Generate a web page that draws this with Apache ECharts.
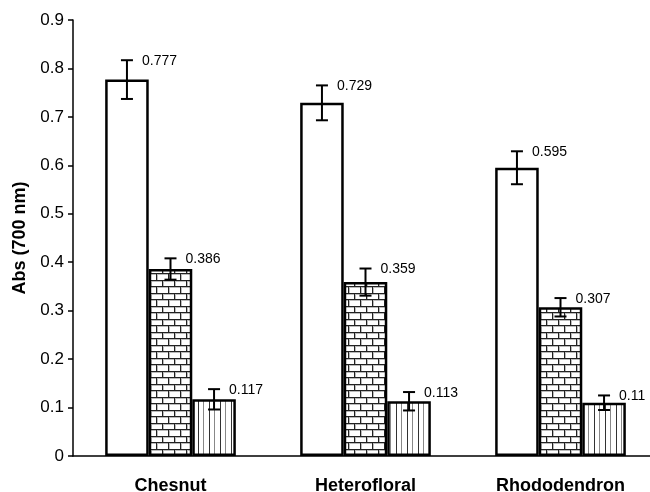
<!DOCTYPE html>
<html><head><meta charset="utf-8">
<script src="https://cdn.jsdelivr.net/npm/echarts@6/dist/echarts.min.js"></script>
<style>html,body{margin:0;padding:0;background:#fff}#c{width:650px;height:492px}</style>
</head><body><div id="c"></div>
<script>
const categories = ['Chesnut', 'Heterofloral', 'Rhododendron'];
const seriesA = [0.777, 0.729, 0.595];
const seriesB = [0.386, 0.359, 0.307];
const seriesC = [0.117, 0.113, 0.11];
const errA = [0.040, 0.036, 0.034];
const errB = [0.022, 0.028, 0.019];
const errC = [0.021, 0.019, 0.015];
const yTicks = [0, 0.1, 0.2, 0.3, 0.4, 0.5, 0.6, 0.7, 0.8, 0.9];

function brickPattern() {
  const c = document.createElement('canvas');
  c.width = 12; c.height = 13;
  const g = c.getContext('2d');
  g.fillStyle = '#fff'; g.fillRect(0, 0, 12, 13);
  g.fillStyle = '#bbb';
  g.fillRect(0, 1, 12, 1); g.fillRect(0, 8, 12, 1);
  g.fillRect(1, 1, 1, 6); g.fillRect(7, 8, 1, 5);
  g.fillStyle = '#222';
  g.fillRect(0, 0, 12, 1); g.fillRect(0, 7, 12, 1);
  g.fillRect(0, 0, 1, 7); g.fillRect(6, 7, 1, 6);
  return c;
}
function linePattern() {
  const c = document.createElement('canvas');
  c.width = 11; c.height = 4;
  const g = c.getContext('2d');
  g.fillStyle = '#fff'; g.fillRect(0, 0, 11, 4);
  g.fillStyle = '#333'; g.fillRect(0, 0, 1, 4);
  g.fillStyle = '#888'; g.fillRect(5, 0, 1, 4);
  return c;
}

const allVals = [seriesA, seriesB, seriesC];
const allErr = [errA, errB, errC];
const errData = [];
for (let s = 0; s < 3; s++) for (let i = 0; i < categories.length; i++)
  errData.push([i, allVals[s][i], allErr[s][i], s]);

const chart = echarts.init(document.getElementById('c'), null, {renderer: 'canvas'});
const barStyle = (fill) => ({color: fill, borderColor: '#000', borderWidth: 2.5});
const catGap = 0.33;
chart.setOption({
  animation: false,
  grid: {left: 73, width: 585, top: 20, height: 436, containLabel: false, outerBoundsMode: 'none'},
  xAxis: {
    type: 'category', data: categories,
    axisLine: {lineStyle: {color: '#000', width: 1.5}},
    axisTick: {length: 7, lineStyle: {color: '#000', width: 1.5}},
    axisLabel: {color: '#000', fontFamily: 'Liberation Sans', fontWeight: 'bold', fontSize: 18, margin: 21}
  },
  yAxis: {
    type: 'value', min: 0, max: 0.9, interval: 0.1,
    name: 'Abs (700 nm)', nameLocation: 'middle', nameGap: 28,
    nameTextStyle: {color: '#000', fontFamily: 'Liberation Sans', fontWeight: 'bold', fontSize: 18},
    splitLine: {show: false},
    axisLine: {show: true, lineStyle: {color: '#000', width: 1.5}},
    axisTick: {show: true, length: 5, lineStyle: {color: '#000', width: 1.5}},
    axisLabel: {color: '#000', fontFamily: 'Liberation Sans', fontSize: 17, margin: 9,
      formatter: v => { const t = yTicks.find(x => Math.abs(x - v) < 1e-9); return t === 0 ? '0' : String(t); }}
  },
  series: [
    {type: 'bar', data: seriesA, barGap: '0%', barCategoryGap: (catGap * 100) + '%', itemStyle: barStyle('#fff')},
    {type: 'bar', data: seriesB, itemStyle: barStyle({image: brickPattern(), repeat: 'repeat'})},
    {type: 'bar', data: seriesC, itemStyle: barStyle({image: linePattern(), repeat: 'repeat'})},
    {
      type: 'custom', data: errData, z: 10,
      renderItem: function (params, api) {
        const cat = api.value(0), v = api.value(1), e = api.value(2), s = api.value(3);
        const band = api.size([1, 0])[0];
        const bw = band * (1 - catGap) / 3;
        const c = api.coord([cat, v]);
        const cx = c[0] + (s - 1) * bw;
        const yt = api.coord([cat, v + e])[1];
        const yb = api.coord([cat, v - e])[1];
        const hw = 6;
        const ls = {stroke: '#000', lineWidth: 2};
        return {type: 'group', children: [
          {type: 'line', shape: {x1: cx, y1: yt, x2: cx, y2: yb}, style: ls},
          {type: 'line', shape: {x1: cx - hw, y1: yt, x2: cx + hw, y2: yt}, style: ls},
          {type: 'line', shape: {x1: cx - hw, y1: yb, x2: cx + hw, y2: yb}, style: ls},
          {type: 'text', x: cx + 15, y: yt + 1, style: {text: String(v), fill: '#000',
            font: '14px "Liberation Sans"', textAlign: 'left', textVerticalAlign: 'middle'}}
        ]};
      }
    }
  ]
});
</script></body></html>
